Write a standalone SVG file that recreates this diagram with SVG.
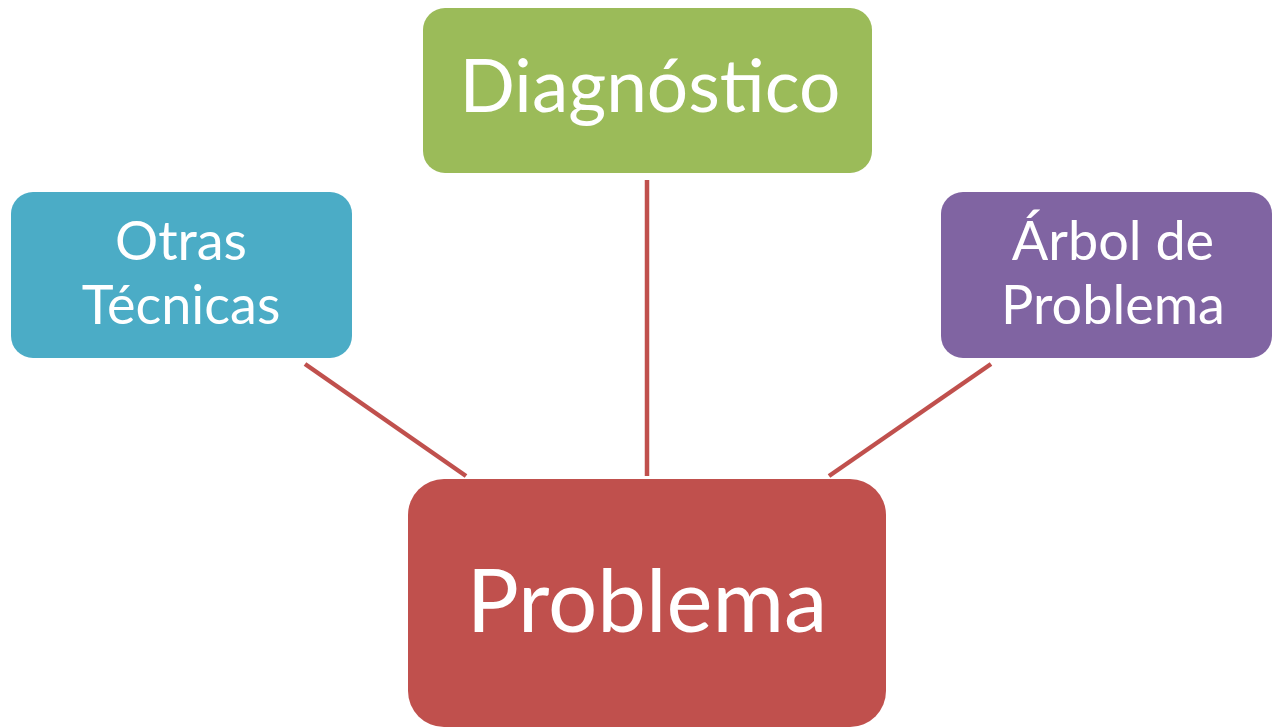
<svg xmlns="http://www.w3.org/2000/svg" width="1272" height="727" viewBox="0 0 1272 727">
  <style>
    .label { font-family: Lato, "Open Sans", "Liberation Sans", sans-serif; fill: #ffffff; text-anchor: middle; }
    .link { stroke: #C0504D; stroke-width: 4.5; fill: none; }
  </style>
  <rect width="1272" height="727" fill="#ffffff"/>

  <!-- connectors -->
  <g id="connectors">
    <line class="link" x1="305" y1="364" x2="466" y2="476"/>
    <line class="link" x1="647" y1="180" x2="647" y2="476"/>
    <line class="link" x1="991" y1="364" x2="829" y2="476"/>
  </g>

  <g id="node-diagnostico">
    <rect x="423" y="8" width="449" height="165" rx="22" fill="#9BBB59"/>
    <text class="label" x="650" y="112" font-size="73">Diagnóstico</text>
  </g>

  <g id="node-otras-tecnicas">
    <rect x="11" y="192" width="341" height="166" rx="22" fill="#4BACC6"/>
    <text class="label" x="181" y="260" font-size="54">Otras</text>
    <text class="label" x="181" y="324" font-size="54">Técnicas</text>
  </g>

  <g id="node-arbol">
    <rect x="941" y="192" width="331" height="166" rx="22" fill="#8064A2"/>
    <text class="label" x="1113" y="260" font-size="54">Árbol de</text>
    <text class="label" x="1113" y="324" font-size="54">Problema</text>
  </g>

  <g id="node-problema">
    <rect x="408" y="479" width="478" height="248" rx="36" fill="#C0504D"/>
    <text class="label" x="647" y="632" font-size="87">Problema</text>
  </g>
</svg>
